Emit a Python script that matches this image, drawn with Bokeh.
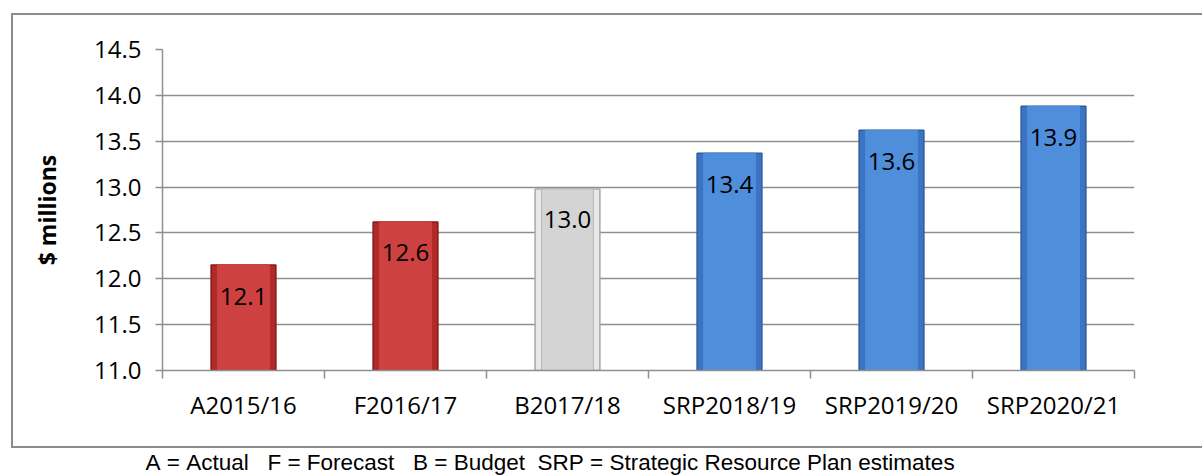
from bokeh.plotting import figure
from bokeh.layouts import column
from bokeh.models import FixedTicker, NumeralTickFormatter, Range1d, ColumnDataSource
from bokeh.core.properties import value
from bokeh.embed import file_html
from bokeh.resources import INLINE

# ---- data ----
categories = ["A2015/16", "F2016/17", "B2017/18", "SRP2018/19", "SRP2019/20", "SRP2020/21"]
kinds = ["actual", "forecast", "budget", "srp", "srp", "srp"]
values = [12.15, 12.62, 12.98, 13.37, 13.62, 13.88]
labels = ["12.1", "12.6", "13.0", "13.4", "13.6", "13.9"]
y_ticks = [11.0, 11.5, 12.0, 12.5, 13.0, 13.5, 14.0, 14.5]
footer = "A = Actual   F = Forecast   B = Budget  SRP = Strategic Resource Plan estimates"
y_title = "$ millions"

# ---- styles ----
outer_fill = {"actual": "#B02A2A", "forecast": "#B02A2A", "budget": "#E8E8E8", "srp": "#3B74C2"}
outer_line = {"actual": "#8A1818", "forecast": "#8A1818", "budget": "#A8A8A8", "srp": "#2E5C9C"}
inner_fill = {"actual": "#CE4141", "forecast": "#CE4141", "budget": "#D4D4D4", "srp": "#4F8EDB"}
inner_line = {"actual": "#CE4141", "forecast": "#CE4141", "budget": "#B8B8B8", "srp": "#4F8EDB"}

FONT = "Open Sans"
GRID = "#8F8F8F"
BORDER = "2px solid #8C8C8C"

x = list(range(1, len(categories) + 1))
src = ColumnDataSource(dict(
    x=x, top=values, label=labels,
    ofill=[outer_fill[k] for k in kinds], oline=[outer_line[k] for k in kinds],
    ifill=[inner_fill[k] for k in kinds], iline=[inner_line[k] for k in kinds],
))

CW, CH = 1191, 435
p = figure(width=CW, height=CH, output_backend="svg", toolbar_location=None,
           x_range=Range1d(0.5, len(categories) + 0.5), y_range=Range1d(y_ticks[0], y_ticks[-1]),
           min_border_left=149, min_border_right=70, min_border_top=34, min_border_bottom=80,
           margin=(13, 0, 0, 11))
p.frame_align = False
p.styles = {"border-top": BORDER, "border-bottom": BORDER, "border-left": BORDER}
p.outline_line_color = None
p.background_fill_color = "white"
p.border_fill_color = "white"

bw = 0.40
p.vbar(x="x", top="top", bottom=y_ticks[0], width=bw, source=src,
       fill_color="ofill", line_color="oline", line_width=1.5)
p.vbar(x="x", top="top", bottom=y_ticks[0], width=bw * 0.8, source=src,
       fill_color="ifill", line_color="iline", line_width=1)

p.text(x="x", y="top", text="label", source=src, text_align="center",
       text_baseline="middle", y_offset=31, text_font=value(FONT),
       text_font_size="24px", text_color="black")

# y axis
yax = p.yaxis[0]
yax.ticker = FixedTicker(ticks=y_ticks)
yax.formatter = NumeralTickFormatter(format="0.0")
yax.major_tick_out = 7
yax.major_tick_in = 0
yax.minor_tick_out = 0
yax.minor_tick_in = 0
yax.axis_line_color = GRID
yax.axis_line_width = 1.5
yax.major_tick_line_color = GRID
yax.major_tick_line_width = 1.5
yax.major_label_text_font = FONT
yax.major_label_text_font_size = "24px"
yax.major_label_text_color = "black"
yax.major_label_standoff = 14
yax.axis_label = y_title
yax.axis_label_text_font = FONT
yax.axis_label_text_font_size = "23px"
yax.axis_label_text_font_style = "bold"
yax.axis_label_text_color = "black"
yax.axis_label_standoff = 28

# x axis
xax = p.xaxis[0]
xax.ticker = FixedTicker(ticks=x, minor_ticks=[i + 0.5 for i in range(0, len(categories) + 1)])
xax.major_label_overrides = {i: c for i, c in zip(x, categories)}
xax.major_tick_out = 0
xax.major_tick_in = 0
xax.minor_tick_out = 8
xax.minor_tick_in = 0
xax.minor_tick_line_color = GRID
xax.minor_tick_line_width = 1.5
xax.axis_line_color = GRID
xax.axis_line_width = 1.5
xax.major_label_text_font = FONT
xax.major_label_text_font_size = "24px"
xax.major_label_text_color = "black"
xax.major_label_standoff = 9

p.xgrid.grid_line_color = None
p.ygrid.ticker = FixedTicker(ticks=y_ticks[1:])
p.ygrid.grid_line_color = GRID
p.ygrid.grid_line_width = 1.5

# footer strip (outside the chart-area border)
FW, FH = 1202, 27
f = figure(width=FW, height=FH, output_backend="svg", toolbar_location=None,
           x_range=Range1d(0, FW), y_range=Range1d(FH, 0),
           x_axis_type=None, y_axis_type=None,
           min_border=0, min_border_left=0, min_border_right=0,
           min_border_top=0, min_border_bottom=0)
f.frame_align = False
f.outline_line_color = None
f.xgrid.visible = False
f.ygrid.visible = False
f.text(x=[145], y=[14], text=[footer.replace(" ", "\u00a0")], text_align="left",
       text_baseline="middle", text_font=value("Liberation Sans"),
       text_font_size="22.5px", text_color="black")

layout = column(p, f, spacing=0)
open("out.html", "w").write(file_html(layout, INLINE))
